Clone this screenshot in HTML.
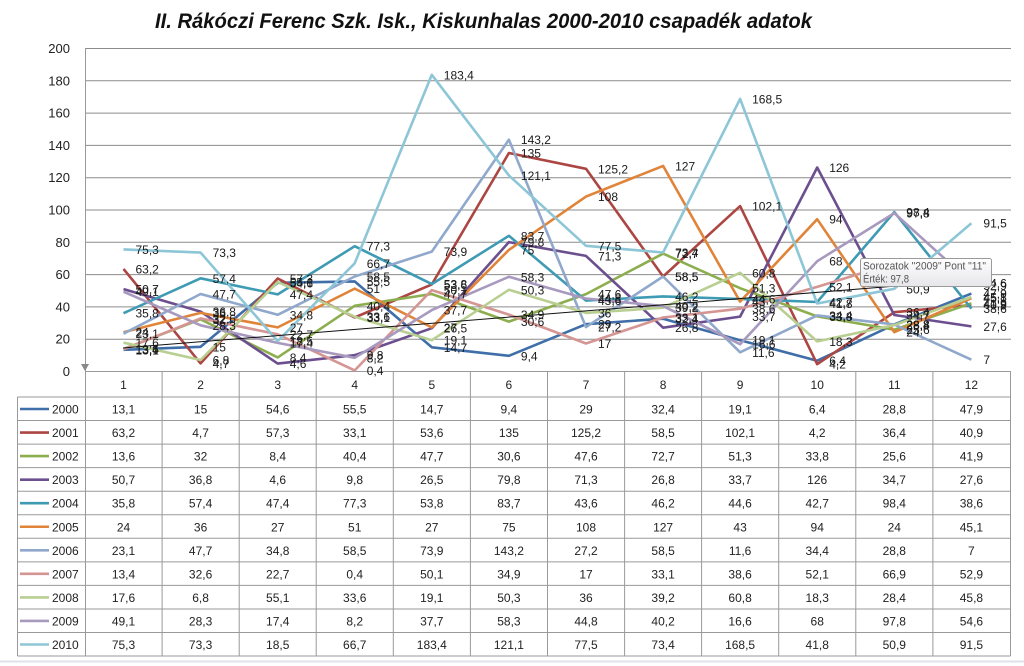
<!DOCTYPE html>
<html><head><meta charset="utf-8"><style>
html,body{margin:0;padding:0;background:#fff;}
svg{display:block;}
text{font-family:"Liberation Sans",Arial,sans-serif;}
</style></head><body>
<svg width="1024" height="666" viewBox="0 0 1024 666" xmlns="http://www.w3.org/2000/svg">
<rect width="1024" height="666" fill="#fff"/>
<line x1="0" y1="661.5" x2="1024" y2="661.5" stroke="#dde3e8" stroke-width="2"/>
<text x="483.5" y="28" text-anchor="middle" font-size="21" font-weight="bold" font-style="italic" fill="#111" textLength="657" lengthAdjust="spacingAndGlyphs">II. Rákóczi Ferenc Szk. Isk., Kiskunhalas 2000-2010 csapadék adatok</text>
<g stroke="#8c8c8c" stroke-width="1">
<line x1="85" y1="48.5" x2="1011" y2="48.5"/>
<line x1="85" y1="80.8" x2="1011" y2="80.8"/>
<line x1="85" y1="113.1" x2="1011" y2="113.1"/>
<line x1="85" y1="145.4" x2="1011" y2="145.4"/>
<line x1="85" y1="177.7" x2="1011" y2="177.7"/>
<line x1="85" y1="210" x2="1011" y2="210"/>
<line x1="85" y1="242.3" x2="1011" y2="242.3"/>
<line x1="85" y1="274.6" x2="1011" y2="274.6"/>
<line x1="85" y1="306.9" x2="1011" y2="306.9"/>
<line x1="85" y1="339.2" x2="1011" y2="339.2"/>
</g>
<g font-size="13" fill="#222" text-anchor="end">
<text x="70" y="53">200</text><text x="70" y="85.3">180</text><text x="70" y="117.6">160</text><text x="70" y="149.9">140</text><text x="70" y="182.2">120</text><text x="70" y="214.5">100</text><text x="70" y="246.8">80</text><text x="70" y="279.1">60</text><text x="70" y="311.4">40</text><text x="70" y="343.7">20</text><text x="70" y="376">0</text>
</g>
<g stroke="#9a9a9a" stroke-width="1">
<line x1="85.5" y1="48" x2="85.5" y2="656.5"/>
<line x1="85" y1="371.5" x2="1010.5" y2="371.5"/>
<line x1="17.5" y1="397" x2="1010.5" y2="397"/>
<line x1="17.5" y1="420.55" x2="1010.5" y2="420.55"/>
<line x1="17.5" y1="444.1" x2="1010.5" y2="444.1"/>
<line x1="17.5" y1="467.65" x2="1010.5" y2="467.65"/>
<line x1="17.5" y1="491.2" x2="1010.5" y2="491.2"/>
<line x1="17.5" y1="514.75" x2="1010.5" y2="514.75"/>
<line x1="17.5" y1="538.3" x2="1010.5" y2="538.3"/>
<line x1="17.5" y1="561.85" x2="1010.5" y2="561.85"/>
<line x1="17.5" y1="585.4" x2="1010.5" y2="585.4"/>
<line x1="17.5" y1="608.95" x2="1010.5" y2="608.95"/>
<line x1="17.5" y1="632.5" x2="1010.5" y2="632.5"/>
<line x1="17.5" y1="656.05" x2="1010.5" y2="656.05"/>
<line x1="17.5" y1="397" x2="17.5" y2="656.05"/>
<line x1="162.1" y1="371" x2="162.1" y2="656"/>
<line x1="239.2" y1="371" x2="239.2" y2="656"/>
<line x1="316.2" y1="371" x2="316.2" y2="656"/>
<line x1="393.3" y1="371" x2="393.3" y2="656"/>
<line x1="470.4" y1="371" x2="470.4" y2="656"/>
<line x1="547.5" y1="371" x2="547.5" y2="656"/>
<line x1="624.6" y1="371" x2="624.6" y2="656"/>
<line x1="701.6" y1="371" x2="701.6" y2="656"/>
<line x1="778.7" y1="371" x2="778.7" y2="656"/>
<line x1="855.8" y1="371" x2="855.8" y2="656"/>
<line x1="932.9" y1="371" x2="932.9" y2="656"/>
<line x1="1010.5" y1="371" x2="1010.5" y2="656"/>
</g>
<polygon points="81,364 89,364 85,371" fill="#888"/>
<g fill="none" stroke-width="2.6" stroke-linejoin="round">
<polyline stroke="#3F6EA8" points="123.5,349.8 200.6,346.8 277.7,282.8 354.7,281.4 431.8,347.3 508.9,355.8 586,324.2 663.1,318.7 740.1,340.2 817.2,360.7 894.3,324.5 971.4,293.6"/>
<polyline stroke="#AC4643" points="123.5,268.9 200.6,363.4 277.7,278.5 354.7,317.5 431.8,284.4 508.9,153 586,168.8 663.1,276.5 740.1,206.1 817.2,364.2 894.3,312.2 971.4,305"/>
<polyline stroke="#8DAE4F" points="123.5,349 200.6,319.3 277.7,357.4 354.7,305.8 431.8,294 508.9,321.6 586,294.1 663.1,253.6 740.1,288.2 817.2,316.4 894.3,329.7 971.4,303.3"/>
<polyline stroke="#6B4F8E" points="123.5,289.1 200.6,311.6 277.7,363.6 354.7,355.2 431.8,328.2 508.9,242.1 586,255.9 663.1,327.7 740.1,316.6 817.2,167.5 894.3,315 971.4,326.4"/>
<polyline stroke="#3E9BB3" points="123.5,313.2 200.6,278.3 277.7,294.4 354.7,246.2 431.8,284.1 508.9,235.8 586,300.6 663.1,296.4 740.1,299 817.2,302 894.3,212.1 971.4,308.7"/>
<polyline stroke="#E0843A" points="123.5,332.2 200.6,312.9 277.7,327.4 354.7,288.6 431.8,327.4 508.9,249.9 586,196.6 663.1,165.9 740.1,301.6 817.2,219.2 894.3,332.2 971.4,298.2"/>
<polyline stroke="#8FA8CC" points="123.5,333.7 200.6,294 277.7,314.8 354.7,276.5 431.8,251.6 508.9,139.7 586,327.1 663.1,276.5 740.1,352.3 817.2,315.4 894.3,324.5 971.4,359.7"/>
<polyline stroke="#D49593" points="123.5,349.4 200.6,318.4 277.7,334.3 354.7,370.4 431.8,290.1 508.9,314.6 586,343.5 663.1,317.5 740.1,308.7 817.2,286.9 894.3,263 971.4,285.6"/>
<polyline stroke="#B9CF92" points="123.5,342.6 200.6,360 277.7,282 354.7,316.7 431.8,340.2 508.9,289.8 586,312.9 663.1,307.7 740.1,272.8 817.2,341.4 894.3,325.1 971.4,297"/>
<polyline stroke="#A899BE" points="123.5,291.7 200.6,325.3 277.7,342.9 354.7,357.8 431.8,310.1 508.9,276.8 586,298.6 663.1,306.1 740.1,344.2 817.2,261.2 894.3,213.1 971.4,282.8"/>
<polyline stroke="#8DC6D6" points="123.5,249.4 200.6,252.6 277.7,341.1 354.7,263.3 431.8,74.8 508.9,175.4 586,245.8 663.1,252.5 740.1,98.9 817.2,303.5 894.3,288.8 971.4,223.2"/>
</g>
<line x1="123" y1="348" x2="897" y2="286" stroke="#111" stroke-width="1"/>
<g font-size="12" fill="#1a1a1a">
<text x="135.5" y="354.3">13,1</text><text x="212.6" y="351.3">15</text><text x="289.7" y="287.3">54,6</text><text x="366.7" y="285.9">55,5</text><text x="443.8" y="351.8">14,7</text><text x="520.9" y="360.3">9,4</text><text x="598" y="328.7">29</text><text x="675.1" y="323.2">32,4</text><text x="752.1" y="344.7">19,1</text><text x="829.2" y="365.2">6,4</text><text x="906.3" y="329">28,8</text><text x="983.4" y="298.1">47,9</text>
<text x="135.5" y="273.4">63,2</text><text x="212.6" y="367.9">4,7</text><text x="289.7" y="283">57,3</text><text x="366.7" y="322">33,1</text><text x="443.8" y="288.9">53,6</text><text x="520.9" y="157.5">135</text><text x="598" y="173.3">125,2</text><text x="675.1" y="281">58,5</text><text x="752.1" y="210.6">102,1</text><text x="829.2" y="368.7">4,2</text><text x="906.3" y="316.7">36,4</text><text x="983.4" y="309.5">40,9</text>
<text x="135.5" y="353.5">13,6</text><text x="212.6" y="323.8">32</text><text x="289.7" y="361.9">8,4</text><text x="366.7" y="310.3">40,4</text><text x="443.8" y="298.5">47,7</text><text x="520.9" y="326.1">30,6</text><text x="598" y="298.6">47,6</text><text x="675.1" y="258.1">72,7</text><text x="752.1" y="292.7">51,3</text><text x="829.2" y="320.9">33,8</text><text x="906.3" y="334.2">25,6</text><text x="983.4" y="307.8">41,9</text>
<text x="135.5" y="293.6">50,7</text><text x="212.6" y="316.1">36,8</text><text x="289.7" y="368.1">4,6</text><text x="366.7" y="359.7">9,8</text><text x="443.8" y="332.7">26,5</text><text x="520.9" y="246.6">79,8</text><text x="598" y="260.4">71,3</text><text x="675.1" y="332.2">26,8</text><text x="752.1" y="321.1">33,7</text><text x="829.2" y="172">126</text><text x="906.3" y="319.5">34,7</text><text x="983.4" y="330.9">27,6</text>
<text x="135.5" y="317.7">35,8</text><text x="212.6" y="282.8">57,4</text><text x="289.7" y="298.9">47,4</text><text x="366.7" y="250.7">77,3</text><text x="443.8" y="288.6">53,8</text><text x="520.9" y="240.3">83,7</text><text x="598" y="305.1">43,6</text><text x="675.1" y="300.9">46,2</text><text x="752.1" y="303.5">44,6</text><text x="829.2" y="306.5">42,7</text><text x="906.3" y="216.6">98,4</text><text x="983.4" y="313.2">38,6</text>
<text x="135.5" y="336.7">24</text><text x="212.6" y="317.4">36</text><text x="289.7" y="331.9">27</text><text x="366.7" y="293.1">51</text><text x="443.8" y="331.9">27</text><text x="520.9" y="254.4">75</text><text x="598" y="201.1">108</text><text x="675.1" y="170.4">127</text><text x="752.1" y="306.1">43</text><text x="829.2" y="223.7">94</text><text x="906.3" y="336.7">24</text><text x="983.4" y="302.7">45,1</text>
<text x="135.5" y="338.2">23,1</text><text x="212.6" y="298.5">47,7</text><text x="289.7" y="319.3">34,8</text><text x="366.7" y="281">58,5</text><text x="443.8" y="256.1">73,9</text><text x="520.9" y="144.2">143,2</text><text x="598" y="331.6">27,2</text><text x="675.1" y="281">58,5</text><text x="752.1" y="356.8">11,6</text><text x="829.2" y="319.9">34,4</text><text x="906.3" y="329">28,8</text><text x="983.4" y="364.2">7</text>
<text x="135.5" y="353.9">13,4</text><text x="212.6" y="322.9">32,6</text><text x="289.7" y="338.8">22,7</text><text x="366.7" y="374.9">0,4</text><text x="443.8" y="294.6">50,1</text><text x="520.9" y="319.1">34,9</text><text x="598" y="348">17</text><text x="675.1" y="322">33,1</text><text x="752.1" y="313.2">38,6</text><text x="829.2" y="291.4">52,1</text><text x="906.3" y="267.5">66,9</text><text x="983.4" y="290.1">52,9</text>
<text x="135.5" y="347.1">17,6</text><text x="212.6" y="364.5">6,8</text><text x="289.7" y="286.5">55,1</text><text x="366.7" y="321.2">33,6</text><text x="443.8" y="344.7">19,1</text><text x="520.9" y="294.3">50,3</text><text x="598" y="317.4">36</text><text x="675.1" y="312.2">39,2</text><text x="752.1" y="277.3">60,8</text><text x="829.2" y="345.9">18,3</text><text x="906.3" y="329.6">28,4</text><text x="983.4" y="301.5">45,8</text>
<text x="135.5" y="296.2">49,1</text><text x="212.6" y="329.8">28,3</text><text x="289.7" y="347.4">17,4</text><text x="366.7" y="362.3">8,2</text><text x="443.8" y="314.6">37,7</text><text x="520.9" y="281.3">58,3</text><text x="598" y="303.1">44,8</text><text x="675.1" y="310.6">40,2</text><text x="752.1" y="348.7">16,6</text><text x="829.2" y="265.7">68</text><text x="906.3" y="217.6">97,8</text><text x="983.4" y="287.3">54,6</text>
<text x="135.5" y="253.9">75,3</text><text x="212.6" y="257.1">73,3</text><text x="289.7" y="345.6">18,5</text><text x="366.7" y="267.8">66,7</text><text x="443.8" y="79.3">183,4</text><text x="520.9" y="179.9">121,1</text><text x="598" y="250.3">77,5</text><text x="675.1" y="257">73,4</text><text x="752.1" y="103.4">168,5</text><text x="829.2" y="308">41,8</text><text x="906.3" y="293.3">50,9</text><text x="983.4" y="227.7">91,5</text>
</g>
<g font-size="12" fill="#222" text-anchor="middle">
<text y="389"><tspan x="123.5">1</tspan><tspan x="200.6">2</tspan><tspan x="277.7">3</tspan><tspan x="354.7">4</tspan><tspan x="431.8">5</tspan><tspan x="508.9">6</tspan><tspan x="586">7</tspan><tspan x="663.1">8</tspan><tspan x="740.1">9</tspan><tspan x="817.2">10</tspan><tspan x="894.3">11</tspan><tspan x="971.4">12</tspan></text>
<text y="413.5"><tspan x="123.5">13,1</tspan><tspan x="200.6">15</tspan><tspan x="277.7">54,6</tspan><tspan x="354.7">55,5</tspan><tspan x="431.8">14,7</tspan><tspan x="508.9">9,4</tspan><tspan x="586">29</tspan><tspan x="663.1">32,4</tspan><tspan x="740.1">19,1</tspan><tspan x="817.2">6,4</tspan><tspan x="894.3">28,8</tspan><tspan x="971.4">47,9</tspan></text>
<text y="437.05"><tspan x="123.5">63,2</tspan><tspan x="200.6">4,7</tspan><tspan x="277.7">57,3</tspan><tspan x="354.7">33,1</tspan><tspan x="431.8">53,6</tspan><tspan x="508.9">135</tspan><tspan x="586">125,2</tspan><tspan x="663.1">58,5</tspan><tspan x="740.1">102,1</tspan><tspan x="817.2">4,2</tspan><tspan x="894.3">36,4</tspan><tspan x="971.4">40,9</tspan></text>
<text y="460.6"><tspan x="123.5">13,6</tspan><tspan x="200.6">32</tspan><tspan x="277.7">8,4</tspan><tspan x="354.7">40,4</tspan><tspan x="431.8">47,7</tspan><tspan x="508.9">30,6</tspan><tspan x="586">47,6</tspan><tspan x="663.1">72,7</tspan><tspan x="740.1">51,3</tspan><tspan x="817.2">33,8</tspan><tspan x="894.3">25,6</tspan><tspan x="971.4">41,9</tspan></text>
<text y="484.15"><tspan x="123.5">50,7</tspan><tspan x="200.6">36,8</tspan><tspan x="277.7">4,6</tspan><tspan x="354.7">9,8</tspan><tspan x="431.8">26,5</tspan><tspan x="508.9">79,8</tspan><tspan x="586">71,3</tspan><tspan x="663.1">26,8</tspan><tspan x="740.1">33,7</tspan><tspan x="817.2">126</tspan><tspan x="894.3">34,7</tspan><tspan x="971.4">27,6</tspan></text>
<text y="507.7"><tspan x="123.5">35,8</tspan><tspan x="200.6">57,4</tspan><tspan x="277.7">47,4</tspan><tspan x="354.7">77,3</tspan><tspan x="431.8">53,8</tspan><tspan x="508.9">83,7</tspan><tspan x="586">43,6</tspan><tspan x="663.1">46,2</tspan><tspan x="740.1">44,6</tspan><tspan x="817.2">42,7</tspan><tspan x="894.3">98,4</tspan><tspan x="971.4">38,6</tspan></text>
<text y="531.25"><tspan x="123.5">24</tspan><tspan x="200.6">36</tspan><tspan x="277.7">27</tspan><tspan x="354.7">51</tspan><tspan x="431.8">27</tspan><tspan x="508.9">75</tspan><tspan x="586">108</tspan><tspan x="663.1">127</tspan><tspan x="740.1">43</tspan><tspan x="817.2">94</tspan><tspan x="894.3">24</tspan><tspan x="971.4">45,1</tspan></text>
<text y="554.8"><tspan x="123.5">23,1</tspan><tspan x="200.6">47,7</tspan><tspan x="277.7">34,8</tspan><tspan x="354.7">58,5</tspan><tspan x="431.8">73,9</tspan><tspan x="508.9">143,2</tspan><tspan x="586">27,2</tspan><tspan x="663.1">58,5</tspan><tspan x="740.1">11,6</tspan><tspan x="817.2">34,4</tspan><tspan x="894.3">28,8</tspan><tspan x="971.4">7</tspan></text>
<text y="578.35"><tspan x="123.5">13,4</tspan><tspan x="200.6">32,6</tspan><tspan x="277.7">22,7</tspan><tspan x="354.7">0,4</tspan><tspan x="431.8">50,1</tspan><tspan x="508.9">34,9</tspan><tspan x="586">17</tspan><tspan x="663.1">33,1</tspan><tspan x="740.1">38,6</tspan><tspan x="817.2">52,1</tspan><tspan x="894.3">66,9</tspan><tspan x="971.4">52,9</tspan></text>
<text y="601.9"><tspan x="123.5">17,6</tspan><tspan x="200.6">6,8</tspan><tspan x="277.7">55,1</tspan><tspan x="354.7">33,6</tspan><tspan x="431.8">19,1</tspan><tspan x="508.9">50,3</tspan><tspan x="586">36</tspan><tspan x="663.1">39,2</tspan><tspan x="740.1">60,8</tspan><tspan x="817.2">18,3</tspan><tspan x="894.3">28,4</tspan><tspan x="971.4">45,8</tspan></text>
<text y="625.45"><tspan x="123.5">49,1</tspan><tspan x="200.6">28,3</tspan><tspan x="277.7">17,4</tspan><tspan x="354.7">8,2</tspan><tspan x="431.8">37,7</tspan><tspan x="508.9">58,3</tspan><tspan x="586">44,8</tspan><tspan x="663.1">40,2</tspan><tspan x="740.1">16,6</tspan><tspan x="817.2">68</tspan><tspan x="894.3">97,8</tspan><tspan x="971.4">54,6</tspan></text>
<text y="649"><tspan x="123.5">75,3</tspan><tspan x="200.6">73,3</tspan><tspan x="277.7">18,5</tspan><tspan x="354.7">66,7</tspan><tspan x="431.8">183,4</tspan><tspan x="508.9">121,1</tspan><tspan x="586">77,5</tspan><tspan x="663.1">73,4</tspan><tspan x="740.1">168,5</tspan><tspan x="817.2">41,8</tspan><tspan x="894.3">50,9</tspan><tspan x="971.4">91,5</tspan></text>
</g>
<g stroke-width="2.6">
<line x1="20" y1="409" x2="49" y2="409" stroke="#3F6EA8"/>
<line x1="20" y1="432.55" x2="49" y2="432.55" stroke="#AC4643"/>
<line x1="20" y1="456.1" x2="49" y2="456.1" stroke="#8DAE4F"/>
<line x1="20" y1="479.65" x2="49" y2="479.65" stroke="#6B4F8E"/>
<line x1="20" y1="503.2" x2="49" y2="503.2" stroke="#3E9BB3"/>
<line x1="20" y1="526.75" x2="49" y2="526.75" stroke="#E0843A"/>
<line x1="20" y1="550.3" x2="49" y2="550.3" stroke="#8FA8CC"/>
<line x1="20" y1="573.85" x2="49" y2="573.85" stroke="#D49593"/>
<line x1="20" y1="597.4" x2="49" y2="597.4" stroke="#B9CF92"/>
<line x1="20" y1="620.95" x2="49" y2="620.95" stroke="#A899BE"/>
<line x1="20" y1="644.5" x2="49" y2="644.5" stroke="#8DC6D6"/>
</g>
<g font-size="12" fill="#222">
<text x="52" y="413.5">2000</text><text x="52" y="437.05">2001</text><text x="52" y="460.6">2002</text><text x="52" y="484.15">2003</text><text x="52" y="507.7">2004</text><text x="52" y="531.25">2005</text><text x="52" y="554.8">2006</text><text x="52" y="578.35">2007</text><text x="52" y="601.9">2008</text><text x="52" y="625.45">2009</text><text x="52" y="649">2010</text>
</g>
<defs><linearGradient id="tg" x1="0" y1="0" x2="0" y2="1"><stop offset="0" stop-color="#ffffff"/><stop offset="1" stop-color="#e6e6ea"/></linearGradient></defs>
<rect x="860.5" y="258.5" width="131" height="28" rx="2" fill="url(#tg)" stroke="#9a9a9a" stroke-width="1"/>
<text x="863" y="269.5" font-size="11" fill="#555" textLength="123" lengthAdjust="spacingAndGlyphs">Sorozatok "2009" Pont "11"</text>
<text x="863" y="282.5" font-size="11" fill="#555" textLength="46" lengthAdjust="spacingAndGlyphs">Érték: 97,8</text>
</svg>
</body></html>
